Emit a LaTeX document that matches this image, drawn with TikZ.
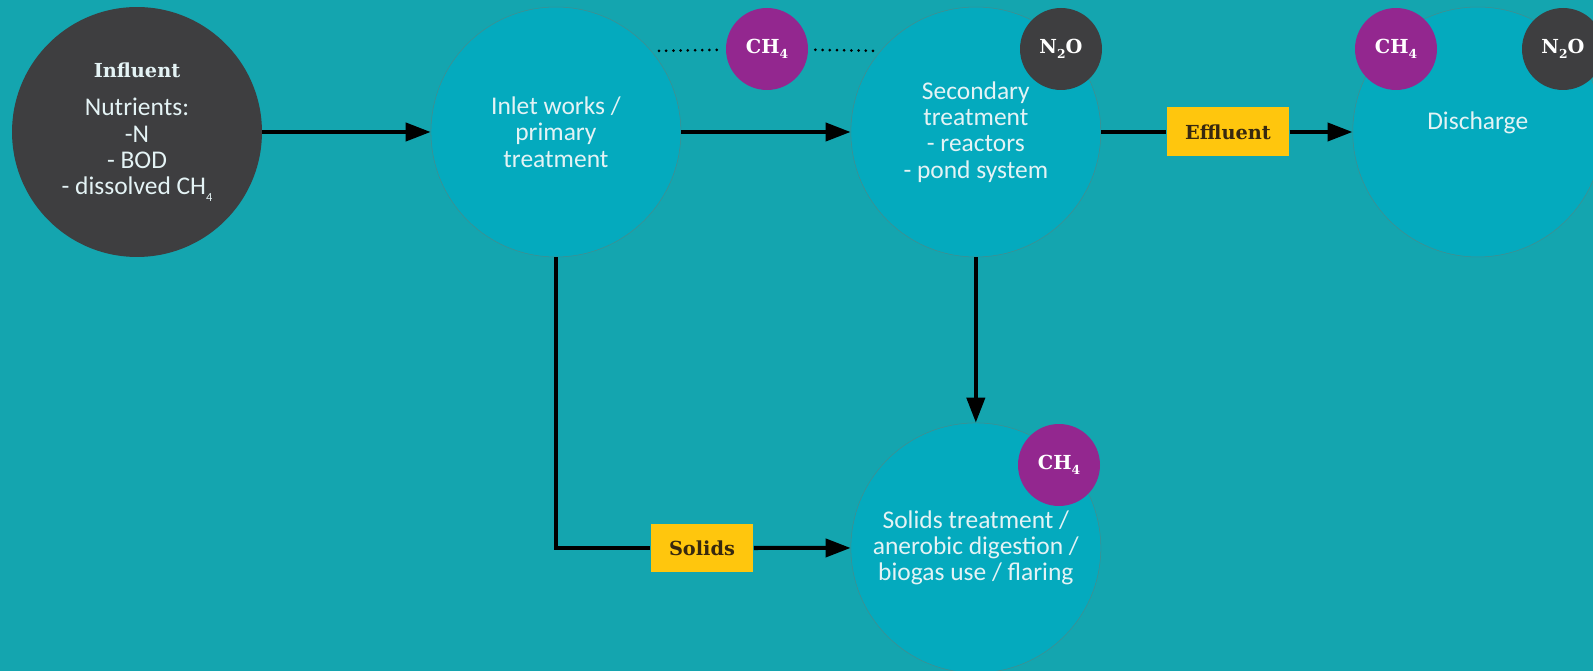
\documentclass[tikz,border=0pt]{standalone}
\usepackage{fontspec}
\setmainfont{Carlito}
\newfontfamily\slabfont{DejaVu Serif}
\usetikzlibrary{positioning,arrows.meta}

\definecolor{bgteal}{RGB}{20,165,175}
\definecolor{stagefill}{RGB}{4,170,190}
\definecolor{stageedge}{RGB}{70,140,140}
\definecolor{stagetext}{RGB}{228,243,245}
\definecolor{darkgrey}{RGB}{62,62,64}
\definecolor{gaspurple}{RGB}{147,39,143}
\definecolor{tagyellow}{RGB}{255,198,13}
\definecolor{tagtext}{RGB}{55,40,15}

\newcommand{\gsub}[1]{\raisebox{-0.55ex}{\scriptsize #1}}

\begin{document}
\begin{tikzpicture}[
  x=0.02cm, y=-0.02cm,
  stage/.style={circle, fill=stagefill, draw=stageedge, line width=0.3pt, minimum size=5cm, inner sep=0pt, align=center, text=stagetext, font=\fontsize{14.5}{15}\selectfont},
  source/.style={stage, fill=darkgrey, draw=none},
  gas/.style={circle, minimum size=1.64cm, inner sep=0pt, text=white, font=\slabfont\bfseries\fontsize{11}{13}\selectfont},
  ch4/.style={gas, fill=gaspurple},
  n2o/.style={gas, fill=darkgrey},
  tag/.style={rectangle, fill=tagyellow, text=tagtext, minimum height=0.98cm, inner xsep=0.37cm, font=\slabfont\bfseries\fontsize{11}{13}\selectfont},
  flow/.style={line width=2.3pt, -{Triangle[length=0.5cm,width=0.36cm]}},
  dots/.style={line width=1.7pt, line cap=round, dash pattern=on 0pt off 4.1pt, shorten >=4pt, shorten <=4pt}
]
\useasboundingbox (0,0) rectangle (1593,671);
\fill[bgteal] (0,0) rectangle (1593,671);
\clip (0,0) rectangle (1593,671);

% treatment stages
\node[source] (influent) at (137,132) {{\slabfont\bfseries\fontsize{11}{13}\selectfont Influent}\\[7pt] Nutrients:\\-N\\- BOD\\- dissolved CH\gsub{4}};
\node[stage, right of=influent, node distance=8.38cm] (inlet) {Inlet works /\\primary\\treatment};
\node[stage, right of=inlet, node distance=8.4cm] (secondary) {Secondary\\treatment\\- reactors\\- pond system};
\node[stage, right of=secondary, node distance=10.04cm] (discharge) {Discharge\\[-2pt]\mbox{}};
\node[stage, below of=secondary, node distance=8.32cm] (solids) {Solids treatment /\\anerobic digestion /\\biogas use / flaring};

% gases
\node[ch4] (gasinlet) at (767,49) {CH\gsub{4}};
\node[n2o] (gassec) at (1061,49) {N\gsub{2}O};
\node[ch4] (gasdisch) at (1396,49) {CH\gsub{4}};
\node[n2o] (gasdischn) at (1563,49) {N\gsub{2}O};
\node[ch4] (gassolids) at (1059,465) {CH\gsub{4}};

\coordinate (dotl) at (652,51);
\coordinate (dotr) at (884,51);
\draw[dots] (dotl) -- (gasinlet);
\draw[dots] (gasinlet) -- (dotr);

% flows
\node[tag] (effluent) at (1228,132) {Effluent};
\node[tag] (solidstag) at (702,548) {Solids};

\draw[flow] (influent) -- (inlet);
\draw[flow] (inlet) -- (secondary);
\draw[line width=2.3pt] (secondary) -- (effluent);
\draw[flow] (effluent) -- (discharge);
\draw[flow] (secondary) -- (solids);
\draw[line width=2.3pt] (inlet.south) |- (solidstag.west);
\draw[flow] (solidstag) -- (solids);
\end{tikzpicture}
\end{document}
